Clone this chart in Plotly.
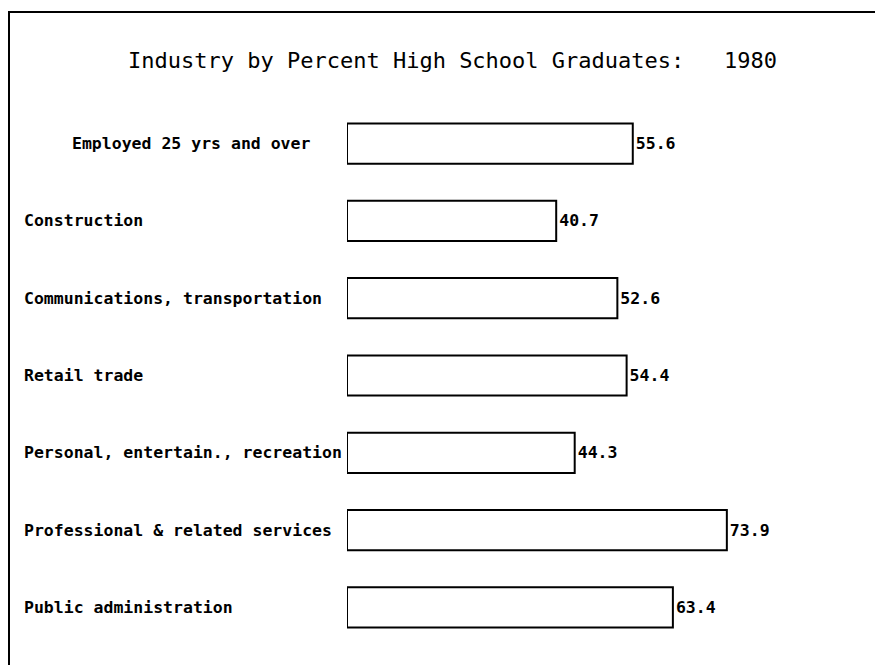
import plotly.graph_objects as go

categories = [
    "Employed 25 yrs and over",
    "Construction",
    "Communications, transportation",
    "Retail trade",
    "Personal, entertain., recreation",
    "Professional & related services",
    "Public administration",
]
values = [55.6, 40.7, 52.6, 54.4, 44.3, 73.9, 63.4]
value_labels = ["55.6", "40.7", "52.6", "54.4", "44.3", "73.9", "63.4"]
title_text = "Industry by Percent High School Graduates:   1980"

# the page body adds an 8px offset; compensate so the picture lands at the reference positions
OFF = 8
W, H = 883 - OFF, 665 - OFF
L, R, T, B = 347 - OFF, 22, 105 - OFF, 19
plot_w = W - L - R
plot_h = H - T - B

def px_to_paper_x(px):
    return (px - OFF - L) / plot_w

def px_to_paper_y(py):
    return (H - B - (py - OFF)) / plot_h

MONO = "DejaVu Sans Mono"

fig = go.Figure()
fig.add_trace(go.Bar(
    y=categories,
    x=values,
    orientation="h",
    width=0.52,
    marker=dict(color="white", line=dict(color="black", width=2)),
    text=value_labels,
    textposition="outside",
    textfont=dict(family=MONO, size=16.5, color="black", weight="bold"),
    cliponaxis=False,
    hoverinfo="skip",
))

# category labels
for i, c in enumerate(categories):
    fig.add_annotation(
        x=px_to_paper_x(70 if i == 0 else 22), xref="paper",
        y=c, yref="y",
        text=c, showarrow=False, xanchor="left", yanchor="middle",
        font=dict(family=MONO, size=16.5, color="black", weight="bold"),
    )

# title
fig.add_annotation(
    x=px_to_paper_x(126), xref="paper",
    y=px_to_paper_y(60), yref="paper",
    text=title_text, showarrow=False, xanchor="left", yanchor="middle",
    font=dict(family=MONO, size=22, color="black"),
)

# page border (left and top)
fig.add_shape(type="line", xref="paper", yref="paper",
              x0=px_to_paper_x(9), x1=px_to_paper_x(9),
              y0=px_to_paper_y(12), y1=px_to_paper_y(H + 20),
              line=dict(color="black", width=2))
fig.add_shape(type="line", xref="paper", yref="paper",
              x0=px_to_paper_x(8), x1=px_to_paper_x(W + 20),
              y0=px_to_paper_y(12), y1=px_to_paper_y(12),
              line=dict(color="black", width=2))

fig.update_xaxes(range=[0, 100], visible=False, showgrid=False, zeroline=False)
fig.update_yaxes(categoryorder="array", categoryarray=categories,
                 autorange="reversed", visible=False, showgrid=False)

fig.update_layout(
    width=W, height=H,
    margin=dict(l=L, r=R, t=T, b=B),
    paper_bgcolor="white", plot_bgcolor="white",
    showlegend=False,
)

fig.write_html("out.html")
